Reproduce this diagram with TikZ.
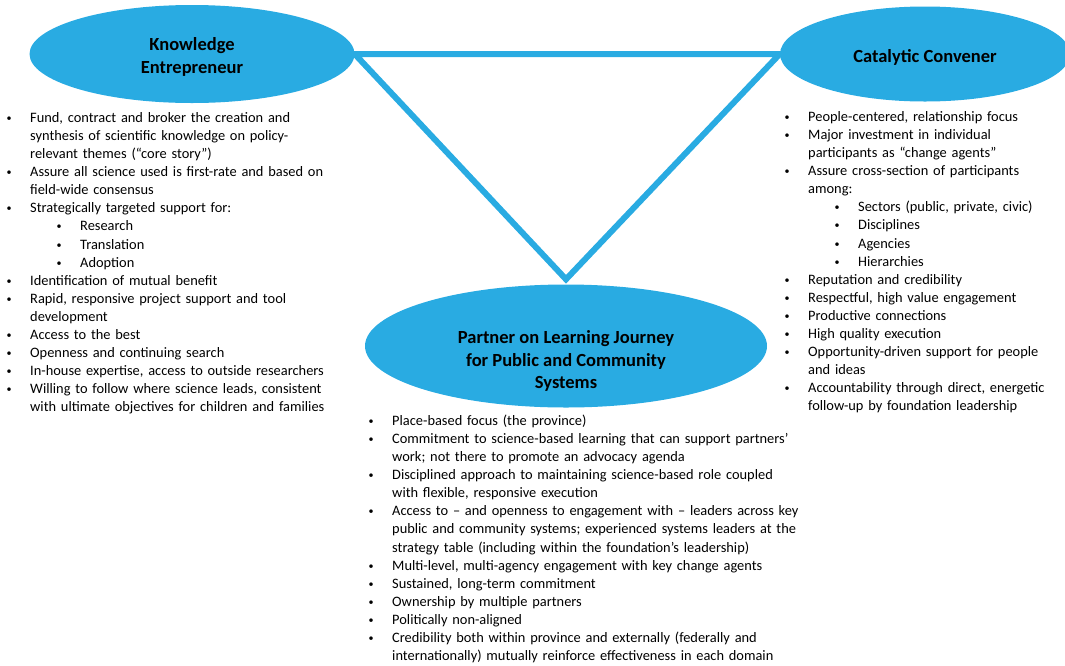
\documentclass[tikz,border=0pt]{standalone}
\usepackage{fontspec}
\setmainfont{Carlito}
\usetikzlibrary{calc}
\usetikzlibrary{shapes.geometric}
\definecolor{roleblue}{RGB}{41,171,226}

\newcommand{\dutybullet}{\makebox[6pt][c]{\raisebox{1pt}{\scalebox{0.7}{\textbullet}}}}
\newenvironment{rolelist}{\begin{list}{\dutybullet}{%
  \setlength{\leftmargin}{24pt}\setlength{\labelwidth}{6pt}\setlength{\labelsep}{18pt}%
  \setlength{\itemsep}{0pt}\setlength{\parsep}{0pt}\setlength{\topsep}{0pt}\setlength{\partopsep}{0pt}}}%
  {\end{list}}
\newenvironment{subrolelist}{\begin{list}{\dutybullet}{%
  \setlength{\leftmargin}{50pt}\setlength{\labelwidth}{6pt}\setlength{\labelsep}{18pt}%
  \setlength{\itemsep}{0pt}\setlength{\parsep}{0pt}\setlength{\topsep}{0pt}\setlength{\partopsep}{0pt}}}%
  {\end{list}}

\begin{document}
\begin{tikzpicture}[x=1pt,y=-1pt,
  role/.style={ellipse,fill=roleblue,inner sep=0pt},
  roletitle/.style={align=center,font=\bfseries\fontsize{18.5}{22.5}\selectfont},
  duties/.style={anchor=north west,inner sep=0pt,align=left,font=\fontsize{14.4}{18.1}\selectfont}]
\useasboundingbox (0,0) rectangle (1065,665);

% the three roles
\node[role,minimum width=325pt,minimum height=98pt] (ke) at (192,54) {};
\node[role,minimum width=290pt,minimum height=95pt] (cc) at (925,54) {};
\node[role,minimum width=402pt,minimum height=123pt] (plj) at (566,346) {};

\draw[roleblue,line width=6pt] (ke.east) -- (cc.west) -- ($(plj.north)+(0,-5)$) -- cycle;

\node[roletitle] (keTitle) at (192,57) {Knowledge\\Entrepreneur};
\node[roletitle] (ccTitle) at (925,57) {Catalytic Convener};
\node[roletitle] (pljTitle) at (566,361) {Partner on Learning Journey\\for Public and Community\\Systems};

% what each role means
\node[duties,text width=350pt] (keList) at (6,104) {%
\begin{rolelist}
\item Fund, contract and broker the creation and\\synthesis of scientific knowledge on policy-\\relevant themes (“core story”)
\item Assure all science used is first-rate and based on\\field-wide consensus
\item Strategically targeted support for:
  \begin{subrolelist}
  \item Research
  \item Translation
  \item Adoption
  \end{subrolelist}
\item Identification of mutual benefit
\item Rapid, responsive project support and tool\\development
\item Access to the best
\item Openness and continuing search
\item In-house expertise, access to outside researchers
\item Willing to follow where science leads, consistent\\with ultimate objectives for children and families
\end{rolelist}};

\node[duties,text width=285pt] (ccList) at (784,103) {%
\begin{rolelist}
\item People-centered, relationship focus
\item Major investment in individual\\participants as “change agents”
\item Assure cross-section of participants\\among:
  \begin{subrolelist}
  \item Sectors (public, private, civic)
  \item Disciplines
  \item Agencies
  \item Hierarchies
  \end{subrolelist}
\item Reputation and credibility
\item Respectful, high value engagement
\item Productive connections
\item High quality execution
\item Opportunity-driven support for people\\and ideas
\item Accountability through direct, energetic\\follow-up by foundation leadership
\end{rolelist}};

\node[duties,text width=470pt] (pljList) at (368,407) {%
\begin{rolelist}
\item Place-based focus (the province)
\item Commitment to science-based learning that can support partners’\\work; not there to promote an advocacy agenda
\item Disciplined approach to maintaining science-based role coupled\\with flexible, responsive execution
\item Access to – and openness to engagement with – leaders across key\\public and community systems; experienced systems leaders at the\\strategy table (including within the foundation’s leadership)
\item Multi-level, multi-agency engagement with key change agents
\item Sustained, long-term commitment
\item Ownership by multiple partners
\item Politically non-aligned
\item Credibility both within province and externally (federally and\\internationally) mutually reinforce effectiveness in each domain
\end{rolelist}};

\end{tikzpicture}
\end{document}
